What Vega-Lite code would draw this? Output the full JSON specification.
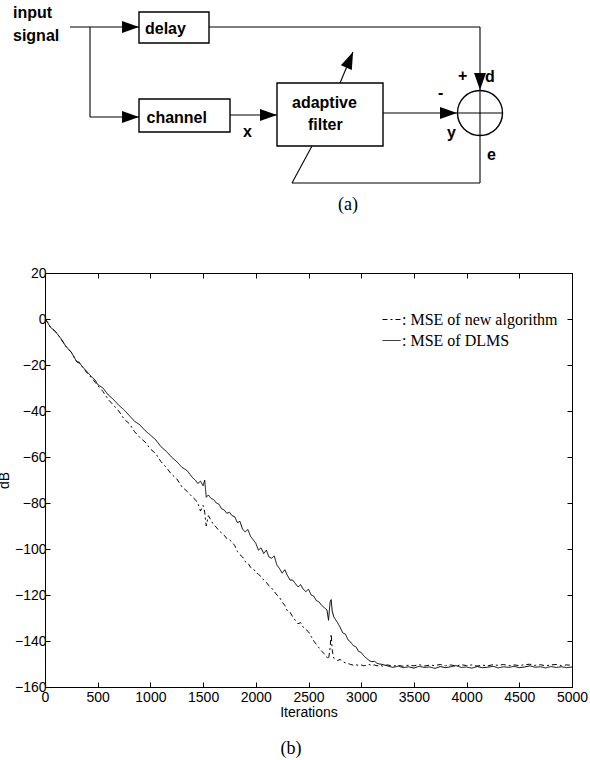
{
  "$schema": "https://vega.github.io/schema/vega-lite/v6.json",
  "width": 527,
  "height": 414,
  "autosize": "none",
  "padding": {"left": 45, "top": 273, "right": 18, "bottom": 73},
  "background": "white",
  "config": {
    "view": {"stroke": "black", "strokeWidth": 1},
    "axis": {
      "grid": false,
      "domainColor": "black",
      "tickColor": "black",
      "labelColor": "black",
      "titleColor": "black",
      "labelFont": "Liberation Sans",
      "titleFont": "Liberation Sans",
      "labelFontSize": 14,
      "titleFontSize": 14,
      "titleFontWeight": "normal",
      "tickSize": -5
    }
  },
  "datasets": {
    "curves": [
      {"it": 0, "dlms": 0, "new": 0},
      {"it": 25, "dlms": -1.5, "new": -1.5},
      {"it": 50, "dlms": -3.5, "new": -3.5},
      {"it": 100, "dlms": -5.5, "new": -5.5},
      {"it": 150, "dlms": -8.5, "new": -8.5},
      {"it": 200, "dlms": -12, "new": -12},
      {"it": 250, "dlms": -14.5, "new": -14.5},
      {"it": 300, "dlms": -18.5, "new": -18.5},
      {"it": 325, "dlms": -18.8, "new": -19.2},
      {"it": 350, "dlms": -20.5, "new": -20.5},
      {"it": 400, "dlms": -23, "new": -23.5},
      {"it": 450, "dlms": -25.5, "new": -26},
      {"it": 475, "dlms": -26.5, "new": -27.5},
      {"it": 500, "dlms": -28.5, "new": -29},
      {"it": 550, "dlms": -30, "new": -31.5},
      {"it": 600, "dlms": -33, "new": -35},
      {"it": 650, "dlms": -35, "new": -37.5},
      {"it": 700, "dlms": -37.5, "new": -40},
      {"it": 750, "dlms": -39.5, "new": -43.5},
      {"it": 800, "dlms": -42, "new": -45.5},
      {"it": 850, "dlms": -44.5, "new": -49},
      {"it": 900, "dlms": -46, "new": -51.5},
      {"it": 950, "dlms": -48.5, "new": -53.5},
      {"it": 1000, "dlms": -50.5, "new": -56.5},
      {"it": 1050, "dlms": -52.5, "new": -58.5},
      {"it": 1100, "dlms": -55.5, "new": -62},
      {"it": 1150, "dlms": -57.5, "new": -64.5},
      {"it": 1200, "dlms": -60, "new": -67.5},
      {"it": 1250, "dlms": -62, "new": -69.5},
      {"it": 1300, "dlms": -64.5, "new": -73},
      {"it": 1350, "dlms": -66, "new": -75},
      {"it": 1400, "dlms": -69, "new": -77.5},
      {"it": 1425, "dlms": -70, "new": -78.5},
      {"it": 1450, "dlms": -71.5, "new": -80},
      {"it": 1475, "dlms": -70.5, "new": -83.5},
      {"it": 1500, "dlms": -72.5, "new": -81},
      {"it": 1515, "dlms": -70, "new": -84},
      {"it": 1530, "dlms": -77.5, "new": -90},
      {"it": 1550, "dlms": -76.5, "new": -85.5},
      {"it": 1575, "dlms": -78, "new": -87.5},
      {"it": 1600, "dlms": -78.5, "new": -89.5},
      {"it": 1625, "dlms": -80, "new": -90.5},
      {"it": 1650, "dlms": -80.5, "new": -92},
      {"it": 1675, "dlms": -82.5, "new": -93},
      {"it": 1700, "dlms": -83, "new": -94},
      {"it": 1725, "dlms": -84.5, "new": -95.5},
      {"it": 1750, "dlms": -84, "new": -96},
      {"it": 1775, "dlms": -85.5, "new": -97},
      {"it": 1800, "dlms": -86, "new": -98.5},
      {"it": 1825, "dlms": -88.5, "new": -101},
      {"it": 1850, "dlms": -88, "new": -102.5},
      {"it": 1875, "dlms": -91.5, "new": -103.5},
      {"it": 1900, "dlms": -92.5, "new": -105.5},
      {"it": 1925, "dlms": -91.5, "new": -106},
      {"it": 1950, "dlms": -94.5, "new": -108},
      {"it": 1975, "dlms": -96, "new": -108.5},
      {"it": 2000, "dlms": -97.5, "new": -110},
      {"it": 2025, "dlms": -100.5, "new": -111},
      {"it": 2050, "dlms": -99.5, "new": -112},
      {"it": 2075, "dlms": -102, "new": -113.5},
      {"it": 2100, "dlms": -100.5, "new": -114.5},
      {"it": 2125, "dlms": -103.5, "new": -116},
      {"it": 2150, "dlms": -104, "new": -117},
      {"it": 2175, "dlms": -103, "new": -118.5},
      {"it": 2200, "dlms": -107, "new": -120},
      {"it": 2225, "dlms": -108.5, "new": -121},
      {"it": 2250, "dlms": -110.5, "new": -123},
      {"it": 2275, "dlms": -109, "new": -124.5},
      {"it": 2300, "dlms": -111.5, "new": -127},
      {"it": 2325, "dlms": -113.5, "new": -127.5},
      {"it": 2350, "dlms": -113.5, "new": -129.5},
      {"it": 2375, "dlms": -115, "new": -131},
      {"it": 2400, "dlms": -116.5, "new": -132.5},
      {"it": 2425, "dlms": -115.5, "new": -132},
      {"it": 2450, "dlms": -117.5, "new": -134},
      {"it": 2475, "dlms": -118.5, "new": -135},
      {"it": 2500, "dlms": -117.5, "new": -136},
      {"it": 2525, "dlms": -120, "new": -138},
      {"it": 2550, "dlms": -120.5, "new": -140},
      {"it": 2575, "dlms": -122.5, "new": -141.5},
      {"it": 2600, "dlms": -123, "new": -143},
      {"it": 2625, "dlms": -124.5, "new": -144.5},
      {"it": 2650, "dlms": -125.5, "new": -145.5},
      {"it": 2675, "dlms": -126.5, "new": -147},
      {"it": 2690, "dlms": -131, "new": -148},
      {"it": 2705, "dlms": -123, "new": -143},
      {"it": 2715, "dlms": -122, "new": -137},
      {"it": 2725, "dlms": -127, "new": -144},
      {"it": 2740, "dlms": -129.5, "new": -147.5},
      {"it": 2775, "dlms": -132, "new": -148.5},
      {"it": 2800, "dlms": -134, "new": -148},
      {"it": 2825, "dlms": -136.5, "new": -149},
      {"it": 2850, "dlms": -137, "new": -149.5},
      {"it": 2875, "dlms": -139.5, "new": -149.8},
      {"it": 2900, "dlms": -140.5, "new": -150.2},
      {"it": 2925, "dlms": -142, "new": -150.5},
      {"it": 2950, "dlms": -142.5, "new": -150.3},
      {"it": 2975, "dlms": -144.5, "new": -150.6},
      {"it": 3000, "dlms": -145, "new": -150.4},
      {"it": 3025, "dlms": -146.5, "new": -150.8},
      {"it": 3050, "dlms": -147.5, "new": -150.5},
      {"it": 3075, "dlms": -148.5, "new": -150.2},
      {"it": 3100, "dlms": -149, "new": -150.7},
      {"it": 3125, "dlms": -148.8, "new": -150.4},
      {"it": 3150, "dlms": -149.7, "new": -150.8},
      {"it": 3175, "dlms": -150, "new": -150.5},
      {"it": 3200, "dlms": -150.2, "new": -150.9},
      {"it": 3250, "dlms": -150.8, "new": -150.4},
      {"it": 3300, "dlms": -151.5, "new": -150.9},
      {"it": 3350, "dlms": -150.9, "new": -150.6},
      {"it": 3400, "dlms": -151.6, "new": -151},
      {"it": 3450, "dlms": -151.2, "new": -150.5},
      {"it": 3500, "dlms": -151.8, "new": -150.8},
      {"it": 3550, "dlms": -151, "new": -150.3},
      {"it": 3600, "dlms": -151.5, "new": -150.9},
      {"it": 3650, "dlms": -151.3, "new": -150.5},
      {"it": 3700, "dlms": -151.9, "new": -150.7},
      {"it": 3750, "dlms": -151.1, "new": -150.2},
      {"it": 3800, "dlms": -151.6, "new": -150.8},
      {"it": 3850, "dlms": -151.2, "new": -150.4},
      {"it": 3900, "dlms": -150.7, "new": -150.9},
      {"it": 3950, "dlms": -151.5, "new": -150.3},
      {"it": 4000, "dlms": -151.3, "new": -150.7},
      {"it": 4050, "dlms": -151.8, "new": -150.4},
      {"it": 4100, "dlms": -151.1, "new": -150.9},
      {"it": 4150, "dlms": -151.6, "new": -150.5},
      {"it": 4200, "dlms": -151.4, "new": -150.8},
      {"it": 4250, "dlms": -151, "new": -150.3},
      {"it": 4300, "dlms": -151.7, "new": -150.6},
      {"it": 4350, "dlms": -151.2, "new": -150.2},
      {"it": 4400, "dlms": -151.5, "new": -150.8},
      {"it": 4450, "dlms": -151, "new": -150.4},
      {"it": 4500, "dlms": -151.6, "new": -150.7},
      {"it": 4550, "dlms": -151.3, "new": -150.3},
      {"it": 4600, "dlms": -150.8, "new": -150.1},
      {"it": 4650, "dlms": -151.4, "new": -150.6},
      {"it": 4700, "dlms": -151.2, "new": -150.3},
      {"it": 4750, "dlms": -151.7, "new": -150.8},
      {"it": 4800, "dlms": -151.1, "new": -150.4},
      {"it": 4850, "dlms": -151.5, "new": -150.2},
      {"it": 4900, "dlms": -151.2, "new": -150.7},
      {"it": 4950, "dlms": -151.6, "new": -150.4},
      {"it": 5000, "dlms": -151.3, "new": -150.6}
    ],
    "boxes": [
      {"name": "delay", "x1": 139, "x2": 209, "y1": 12, "y2": 43},
      {"name": "channel", "x1": 139, "x2": 230, "y1": 99, "y2": 132},
      {"name": "adaptive filter", "x1": 277, "x2": 383, "y1": 83, "y2": 146}
    ],
    "wires": [
      {"x1": 70, "y1": 27, "x2": 139, "y2": 27},
      {"x1": 209, "y1": 27, "x2": 480, "y2": 27},
      {"x1": 480, "y1": 27, "x2": 480, "y2": 183},
      {"x1": 90, "y1": 27, "x2": 90, "y2": 117},
      {"x1": 90, "y1": 117, "x2": 139, "y2": 117},
      {"x1": 230, "y1": 115, "x2": 277, "y2": 115},
      {"x1": 383, "y1": 113, "x2": 502, "y2": 113},
      {"x1": 480, "y1": 183, "x2": 292, "y2": 183},
      {"x1": 292, "y1": 183, "x2": 312, "y2": 146},
      {"x1": 340, "y1": 83, "x2": 353, "y2": 52}
    ],
    "arrows": [
      {"x": 139, "y": 27, "dir": 0},
      {"x": 139, "y": 117, "dir": 0},
      {"x": 277, "y": 115, "dir": 0},
      {"x": 457, "y": 113, "dir": 0},
      {"x": 480, "y": 90, "dir": 90},
      {"x": 353, "y": 52, "dir": 293}
    ],
    "junction": [
      {"x": 480, "y": 113}
    ],
    "words": [
      {"t": "input", "x": 13, "y": 17.5},
      {"t": "signal", "x": 13, "y": 41},
      {"t": "delay", "x": 145, "y": 34},
      {"t": "channel", "x": 146.5, "y": 123},
      {"t": "adaptive", "x": 292, "y": 107.5},
      {"t": "filter", "x": 308, "y": 130},
      {"t": "x", "x": 243, "y": 137},
      {"t": "y", "x": 447, "y": 138},
      {"t": "d", "x": 485, "y": 82},
      {"t": "e", "x": 487, "y": 160},
      {"t": "+", "x": 458, "y": 81},
      {"t": "-", "x": 438, "y": 97.5}
    ],
    "captions": [
      {"t": "(a)", "x": 348, "y": 210},
      {"t": "(b)", "x": 291, "y": 754}
    ]
  },
  "layer": [
    {
      "data": {"name": "curves"},
      "transform": [{"fold": ["new", "dlms"], "as": ["alg", "mse"]}],
      "layer": [
        {
          "mark": {"type": "line", "color": "black", "strokeWidth": 1},
          "encoding": {
            "x": {
              "field": "it", "type": "quantitative",
              "scale": {"domain": [0, 5000], "nice": false, "zero": false},
              "axis": {"orient": "bottom", "title": "Iterations", "values": [0, 500, 1000, 1500, 2000, 2500, 3000, 3500, 4000, 4500, 5000], "format": "d", "labelPadding": 8, "titlePadding": 1, "labelFlush": false}
            },
            "y": {
              "field": "mse", "type": "quantitative",
              "scale": {"domain": [-160, 20], "nice": false, "zero": false},
              "axis": {"orient": "left", "title": "dB", "values": [-160, -140, -120, -100, -80, -60, -40, -20, 0, 20], "format": "d", "labelPadding": 4, "titlePadding": 3, "labelFlush": false}
            },
            "strokeDash": {
              "field": "alg", "type": "nominal",
              "scale": {"domain": ["new", "dlms"], "range": [[5, 3, 2, 3], [1, 0]]},
              "legend": {
                "title": null,
                "orient": "none",
                "legendX": 337,
                "legendY": 37,
                "symbolType": "stroke",
                "symbolSize": 324,
                "symbolStrokeWidth": 1,
                "symbolStrokeColor": "black",
                "labelFont": "Liberation Serif",
                "labelFontSize": 16,
                "labelColor": "black",
                "labelLimit": 300,
                "labelOffset": 1,
                "rowPadding": 3,
                "padding": 0,
                "labelExpr": "datum.label == 'new' ? ': MSE of new algorithm' : ': MSE of DLMS'"
              }
            }
          }
        },
        {
          "mark": {"type": "point", "opacity": 0},
          "encoding": {
            "x": {
              "field": "it", "type": "quantitative",
              "axis": {"orient": "top", "title": null, "labels": false, "values": [0, 500, 1000, 1500, 2000, 2500, 3000, 3500, 4000, 4500, 5000]}
            },
            "y": {
              "field": "mse", "type": "quantitative",
              "axis": {"orient": "right", "title": null, "labels": false, "values": [-160, -140, -120, -100, -80, -60, -40, -20, 0, 20]}
            }
          }
        }
      ]
    },
    {
      "layer": [
        {
          "data": {"name": "boxes"},
          "mark": {"type": "rect", "fillOpacity": 0, "stroke": "black", "strokeWidth": 1.4},
          "encoding": {
            "x": {"field": "x1", "type": "quantitative", "scale": {"domain": [45, 572], "nice": false, "zero": false}, "axis": null},
            "x2": {"field": "x2"},
            "y": {"field": "y1", "type": "quantitative", "scale": {"domain": [687, 273], "nice": false, "zero": false}, "axis": null},
            "y2": {"field": "y2"}
          }
        },
        {
          "data": {"name": "wires"},
          "mark": {"type": "rule", "color": "black", "strokeWidth": 1.1},
          "encoding": {
            "x": {"field": "x1", "type": "quantitative", "axis": null},
            "x2": {"field": "x2"},
            "y": {"field": "y1", "type": "quantitative", "axis": null},
            "y2": {"field": "y2"}
          }
        },
        {
          "data": {"name": "junction"},
          "mark": {"type": "point", "shape": "circle", "filled": false, "size": 2025, "stroke": "black", "strokeWidth": 1.4, "opacity": 1},
          "encoding": {
            "x": {"field": "x", "type": "quantitative", "axis": null},
            "y": {"field": "y", "type": "quantitative", "axis": null}
          }
        },
        {
          "data": {"name": "arrows"},
          "mark": {"type": "point", "shape": "M0,0L-2,-0.7L-2,0.7Z", "filled": true, "size": 289, "color": "black", "opacity": 1},
          "encoding": {
            "x": {"field": "x", "type": "quantitative", "axis": null},
            "y": {"field": "y", "type": "quantitative", "axis": null},
            "angle": {"field": "dir", "type": "quantitative", "scale": null}
          }
        },
        {
          "data": {"name": "words"},
          "mark": {"type": "text", "font": "Liberation Sans", "fontWeight": "bold", "fontSize": 16, "align": "left", "baseline": "alphabetic", "color": "black"},
          "encoding": {
            "x": {"field": "x", "type": "quantitative", "axis": null},
            "y": {"field": "y", "type": "quantitative", "axis": null},
            "text": {"field": "t"}
          }
        },
        {
          "data": {"name": "captions"},
          "mark": {"type": "text", "font": "Liberation Serif", "fontSize": 18, "align": "center", "baseline": "alphabetic", "color": "black"},
          "encoding": {
            "x": {"field": "x", "type": "quantitative", "axis": null},
            "y": {"field": "y", "type": "quantitative", "axis": null},
            "text": {"field": "t"}
          }
        }
      ]
    }
  ],
  "resolve": {"scale": {"x": "independent", "y": "independent"}}
}
